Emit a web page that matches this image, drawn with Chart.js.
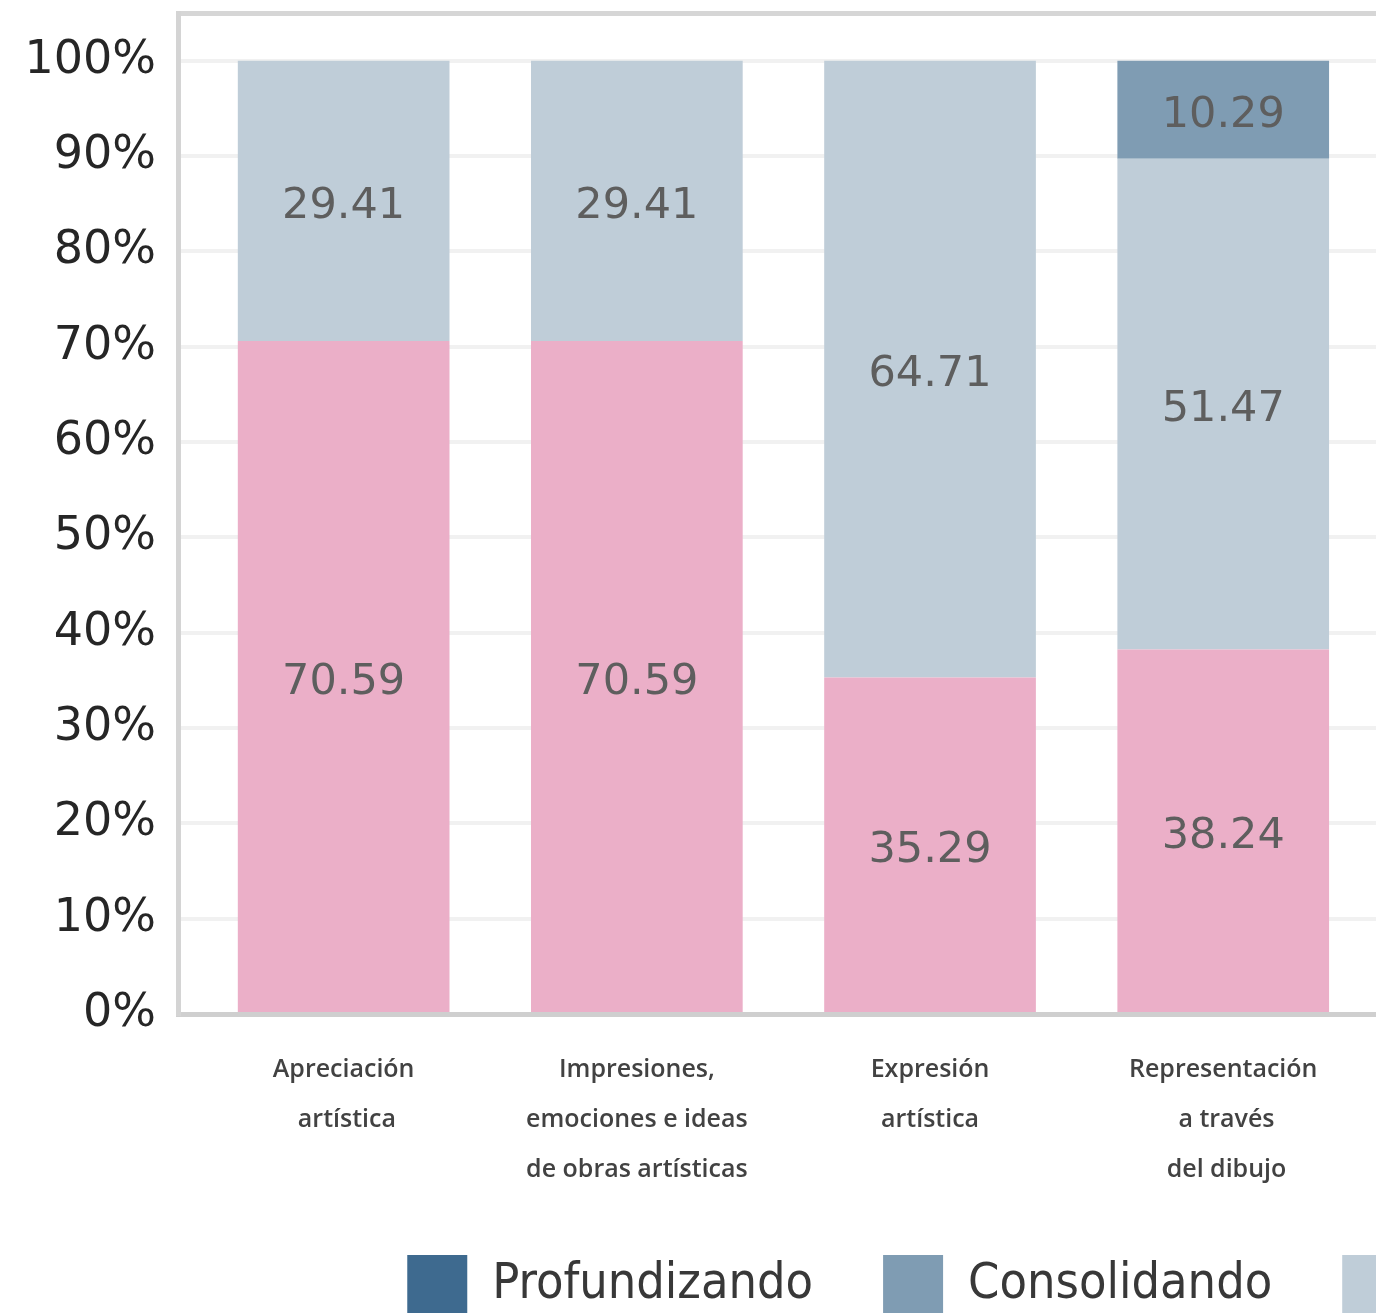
<!DOCTYPE html>
<html>
<head>
<meta charset="utf-8">
<script src="https://cdn.jsdelivr.net/npm/chart.js@4.4.0/dist/chart.umd.min.js"></script>
<style>
  html, body { margin: 0; padding: 0; background: #fff; overflow: hidden; }
  #chart { display: block; }
</style>
</head>
<body>
<canvas id="chart" width="2427" height="1325"></canvas>
<script>
// categories as they appear under the bars (line breaks kept)
const categories = [
  ['Apreciación', ' artística'],
  ['Impresiones,', 'emociones e ideas', 'de obras artísticas'],
  ['Expresión', 'artística'],
  ['Representación', ' a través', ' del dibujo'],
];

// percentage of students per level
const profundizando = [0, 0, 0, 0];
const consolidando = [0, 0, 0, 10.29];
const enProceso = [29.41, 29.41, 64.71, 51.47];
const enInicio = [70.59, 70.59, 35.29, 38.24];

const yTicks = [0, 10, 20, 30, 40, 50, 60, 70, 80, 90, 100];
const Y_TOP = 105;

// the picture is a crop of a wider chart, so x runs past the visible part
const X_MIN = -0.565;
const X_MAX = 7.098;

const segmentLabels = {
  id: 'segmentLabels',
  afterDatasetsDraw(chart) {
    const { ctx } = chart;
    ctx.save();
    ctx.font = '43px "DejaVu Sans"';
    ctx.fillStyle = '#5e5e5e';
    ctx.textAlign = 'center';
    ctx.textBaseline = 'middle';
    chart.data.datasets.forEach((ds, i) => {
      chart.getDatasetMeta(i).data.forEach((bar, j) => {
        const v = ds.data[j];
        if (!v) return;
        ctx.fillText(v.toFixed(2), bar.x, (bar.y + bar.base) / 2 + 6);
      });
    });
    ctx.restore();
  }
};

const ctx = document.getElementById('chart').getContext('2d');
new Chart(ctx, {
  type: 'bar',
  data: {
    labels: categories.map((_, i) => i),
    datasets: [
      { label: 'En inicio', data: enInicio, backgroundColor: '#ebafc8' },
      { label: 'En proceso', data: enProceso, backgroundColor: '#bfcdd8' },
      { label: 'Consolidando', data: consolidando, backgroundColor: '#7f9cb3' },
      { label: 'Profundizando', data: profundizando, backgroundColor: '#3e6a8f' },
    ],
  },
  options: {
    responsive: false,
    animation: false,
    events: [],
    barPercentage: 0.722,
    categoryPercentage: 1,
    layout: { padding: { top: 13, left: 0, right: 0, bottom: 0 } },
    plugins: {
      tooltip: { enabled: false },
      legend: {
        position: 'bottom',
        reverse: true,
        labels: {
          boxWidth: 60,
          boxHeight: 60,
          padding: 70,
          color: '#383838',
          font: { family: '"Liberation Sans Narrow", "DejaVu Sans Condensed", "Liberation Sans"', size: 50 },
        },
      },
    },
    scales: {
      x: {
        type: 'linear',
        stacked: true,
        offset: false,
        min: X_MIN,
        max: X_MAX,
        grid: { display: false, drawTicks: false, offset: false },
        border: { display: true, color: '#cfcfcf', width: 5 },
        ticks: {
          stepSize: 1,
          includeBounds: false,
          autoSkip: true,
          autoSkipPadding: 2,
          maxRotation: 0,
          padding: 31,
          color: '#424242',
          font: { family: '"Open Sans"', size: 25, weight: '600', lineHeight: 2 },
          callback: (v) => (Number.isInteger(v) && categories[v]) ? categories[v] : '',
        },
        afterFit: (s) => { s.height = 171; },
      },
      y: {
        stacked: true,
        min: 0,
        max: Y_TOP,
        afterBuildTicks: (s) => { s.ticks = yTicks.concat([Y_TOP]).map(v => ({ value: v })); },
        afterFit: (s) => { s.width = 178; s.paddingTop = 0; },
        grid: {
          drawTicks: false,
          color: (c) => c.tick && c.tick.value === Y_TOP ? '#d6d6d6' : '#f1f1f1',
          lineWidth: (c) => c.tick && c.tick.value === Y_TOP ? 5 : 4,
        },
        border: { display: true, color: '#d4d4d4', width: 5 },
        ticks: {
          padding: 22,
          color: '#262626',
          font: { family: '"DejaVu Sans"', size: 46 },
          callback: (v) => v === Y_TOP ? '' : v + '%',
        },
      },
    },
  },
  plugins: [segmentLabels],
});
</script>
</body>
</html>
